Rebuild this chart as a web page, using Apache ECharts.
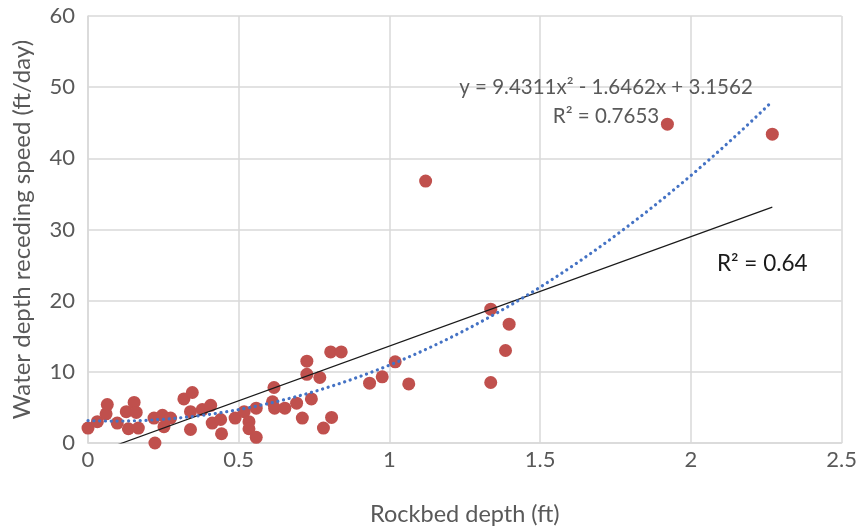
<!DOCTYPE html>
<html>
<head>
<meta charset="utf-8">
<script src="https://cdn.jsdelivr.net/npm/echarts@6/dist/echarts.min.js"></script>
<style>
  html, body { margin: 0; padding: 0; background: #fff; }
  #chart { width: 860px; height: 531px; }
</style>
</head>
<body>
<div id="chart"></div>
<script>
// Rockbed depth (ft) for each observation
const rockbedDepth = [
  0.000, 0.031, 0.060, 0.064, 0.097, 0.127, 0.153, 0.160, 0.134, 0.167,
  0.219, 0.222, 0.247, 0.252, 0.274, 0.318, 0.346, 0.340, 0.340, 0.379,
  0.407, 0.412, 0.440, 0.443, 0.488, 0.518, 0.534, 0.534, 0.558, 0.558,
  0.617, 0.612, 0.619, 0.653, 0.692, 0.711, 0.726, 0.726, 0.741, 0.769,
  0.781, 0.808, 0.805, 0.840, 0.934, 0.976, 1.019, 1.064, 1.120, 1.336,
  1.397, 1.385, 1.336, 1.922, 2.270
];
// Water depth receding speed (ft/day) for each observation
const recedingSpeed = [
  2.1, 3.0, 4.1, 5.4, 2.8, 4.4, 5.7, 4.3, 2.0, 2.1,
  3.5, 0.0, 3.9, 2.3, 3.5, 6.2, 7.1, 4.4, 1.9, 4.7,
  5.3, 2.8, 3.3, 1.3, 3.5, 4.4, 3.0, 2.0, 4.9, 0.8,
  7.8, 5.8, 4.9, 4.9, 5.6, 3.5, 11.5, 9.65, 6.2, 9.2,
  2.1, 3.6, 12.8, 12.8, 8.4, 9.3, 11.4, 8.3, 36.8, 18.8,
  16.7, 13.0, 8.5, 44.8, 43.4
];

// Axis ticks
const xTicks = [0, 0.5, 1, 1.5, 2, 2.5];
const yTicks = [0, 10, 20, 30, 40, 50, 60];

// Trendline coefficients
const polyCoef = [9.4311, -1.6462, 3.1562];   // a x^2 + b x + c
const polyR2 = '0.7653';
const linearCoef = [15.37, -1.75];             // slope, intercept
const linearR2 = '0.64';

const points = rockbedDepth.map((x, i) => [x, recedingSpeed[i]]);
const xMin = Math.min(...rockbedDepth);
const xMax = Math.max(...rockbedDepth);

// Sample the fitted quadratic across the data range
const polyLine = [];
const steps = 120;
for (let i = 0; i <= steps; i++) {
  const x = xMin + (xMax - xMin) * i / steps;
  polyLine.push([x, polyCoef[0] * x * x + polyCoef[1] * x + polyCoef[2]]);
}
const linearLine = [xMin, xMax].map(x => [x, linearCoef[0] * x + linearCoef[1]]);

const FONT = 'Lato';
const chart = echarts.init(document.getElementById('chart'), null, { renderer: 'canvas' });

chart.setOption({
  animation: false,
  backgroundColor: '#ffffff',
  grid: { left: 88, right: 15, top: 16, bottom: 86 },
  xAxis: {
    type: 'value',
    min: xTicks[0],
    max: xTicks[xTicks.length - 1],
    interval: xTicks[1] - xTicks[0],
    name: 'Rockbed depth (ft)',
    nameLocation: 'middle',
    nameGap: 59,
    nameTextStyle: { fontFamily: FONT, fontSize: 23.5, color: '#595959' },
    axisLine: { show: true, lineStyle: { color: '#d9d9d9', width: 1.5 } },
    axisTick: { show: false },
    axisLabel: { fontFamily: FONT, fontSize: 22, color: '#595959', margin: 6 },
    splitLine: { show: true, lineStyle: { color: '#d9d9d9', width: 1.5 } }
  },
  yAxis: {
    type: 'value',
    min: yTicks[0],
    max: yTicks[yTicks.length - 1],
    interval: yTicks[1] - yTicks[0],
    name: 'Water depth receding speed (ft/day)',
    nameLocation: 'middle',
    nameGap: 54,
    nameTextStyle: { fontFamily: FONT, fontSize: 24, color: '#595959' },
    axisLine: { show: true, lineStyle: { color: '#d9d9d9', width: 1.5 } },
    axisTick: { show: false },
    axisLabel: { fontFamily: FONT, fontSize: 22, color: '#595959', margin: 13 },
    splitLine: { show: true, lineStyle: { color: '#d9d9d9', width: 1.5 } }
  },
  series: [
    {
      type: 'scatter',
      data: points,
      symbol: 'circle',
      symbolSize: 13,
      itemStyle: { color: '#c0504d', opacity: 1 },
      z: 2
    },
    {
      type: 'line',
      data: linearLine,
      symbol: 'none',
      clip: true,
      lineStyle: { color: '#1a1a1a', width: 1.2 },
      z: 3
    },
    {
      type: 'line',
      data: polyLine,
      symbol: 'none',
      smooth: false,
      clip: true,
      lineStyle: { color: '#4472c4', width: 3.2, type: [0.1, 5.7], cap: 'round' },
      z: 4
    }
  ],
  graphic: [
    {
      type: 'text',
      z: 10,
      style: {
        text: 'y = ' + polyCoef[0] + 'x² - ' + Math.abs(polyCoef[1]) + 'x + ' + polyCoef[2] + '\nR² = ' + polyR2,
        x: 606, y: 73,
        fontFamily: FONT, fontSize: 20.5, fill: '#595959',
        align: 'center', verticalAlign: 'top', lineHeight: 29
      }
    },
    {
      type: 'text',
      z: 10,
      style: {
        text: 'R² = ' + linearR2,
        x: 717, y: 264,
        fontFamily: FONT, fontSize: 22.5, fill: '#1a1a1a',
        align: 'left', verticalAlign: 'middle'
      }
    }
  ]
});
</script>
</body>
</html>
